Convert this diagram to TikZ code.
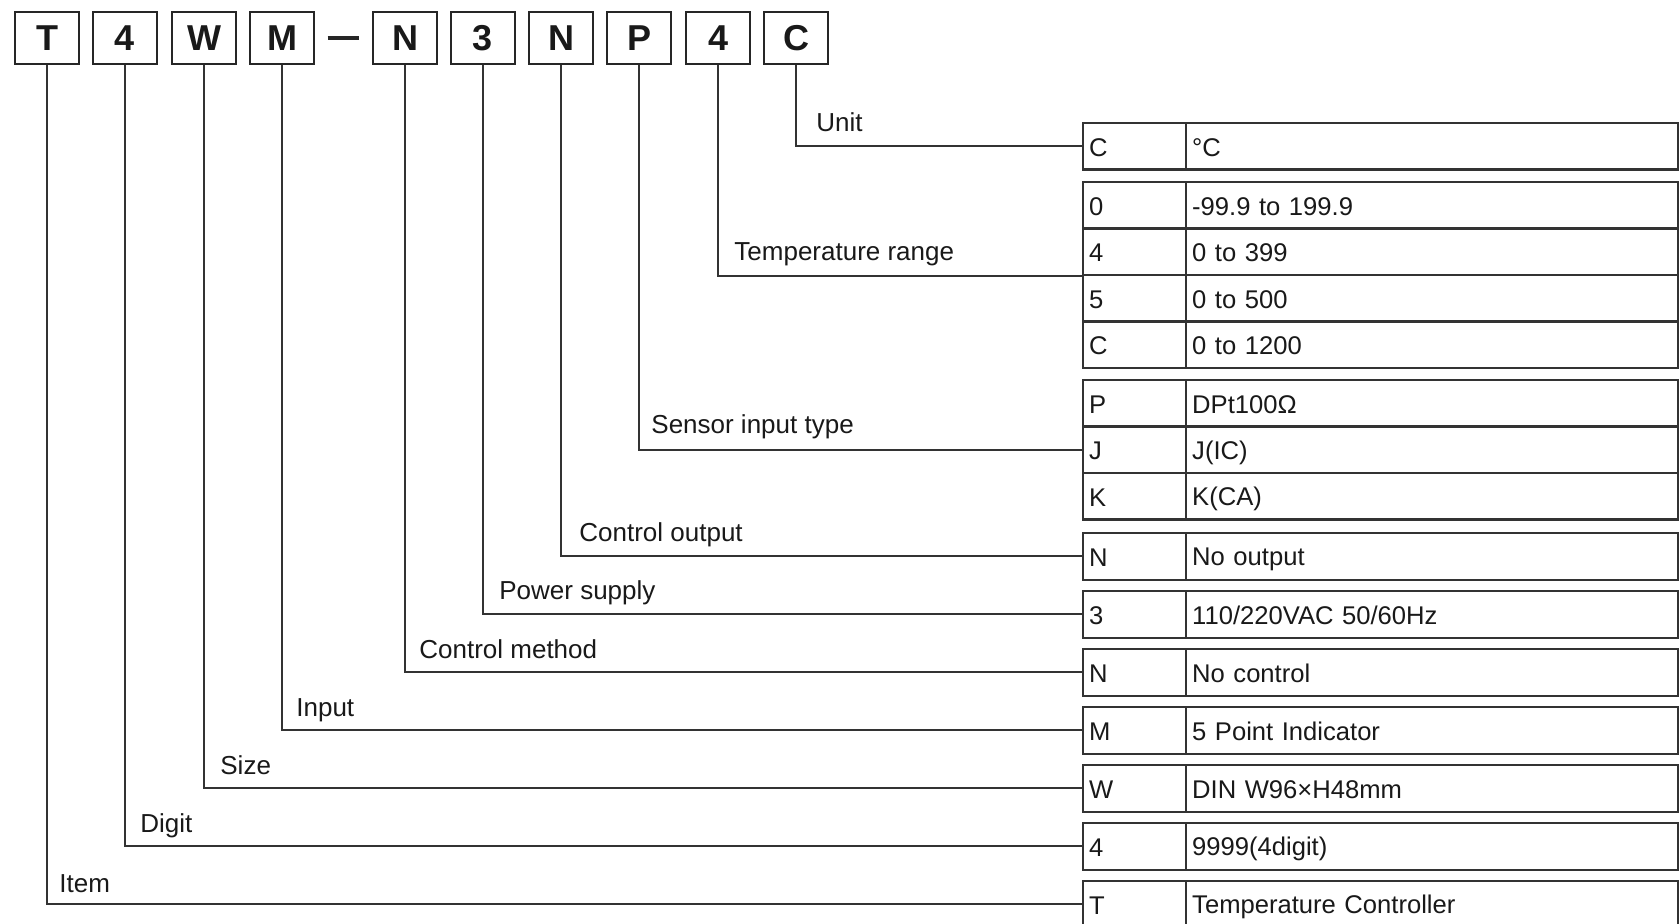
\documentclass[tikz,border=0pt]{standalone}
\usepackage{fontspec}
\setmainfont{Liberation Sans}
\usetikzlibrary{calc}
\newcommand\tabfont{\fontsize{12.8}{15}\selectfont}
\newcommand\lblfont{\fontsize{13}{15}\selectfont}
\newcommand\cellstrut{\rule[-2pt]{0pt}{14pt}}
\begin{document}
\begin{tikzpicture}[x=0.5pt,y=-0.5pt,
  keybox/.style={draw=black!85, line width=1.3pt, minimum width=32pt, minimum height=26pt, inner sep=0pt, font=\fontsize{18}{20}\selectfont\bfseries, text=black!90},
  cellbase/.style={draw=black!80, line width=1.2pt, anchor=north west, inner xsep=3pt, inner ysep=0pt, minimum height=23.25pt, align=left, font=\tabfont, text=black!90, execute at begin node=\cellstrut},
  codecell/.style={cellbase, text width=45.5pt},
  desccell/.style={cellbase, text width=240pt},
  conn/.style={draw=black!80, line width=1pt},
  lbl/.style={anchor=base west, inner sep=0pt, font=\lblfont, text=black!90}]
\newcommand\tabrow[4]{%
  \node[codecell] (#1c) at (1082,#2) {#3};
  \node[desccell] (#1d) at (1185,#2) {#4};}
\useasboundingbox (0,0) rectangle (1680,924);
\fill[white] (0,0) rectangle (1680,924);
% top code boxes
\node[keybox] (k1) at (47,38) {T};
\node[keybox] (k2) at (125,38) {4};
\node[keybox] (k3) at (204,38) {W};
\node[keybox] (k4) at (282,38) {M};
\node[inner sep=0pt] (dash) at (343,38) {\color{black!85}\rule{15.5pt}{2.2pt}};
\node[keybox] (k5) at (405,38) {N};
\node[keybox] (k6) at (483,38) {3};
\node[keybox] (k7) at (561,38) {N};
\node[keybox] (k8) at (639,38) {P};
\node[keybox] (k9) at (718,38) {4};
\node[keybox] (k10) at (796,38) {C};
% table rows
\tabrow{rowU}{122}{C}{°C}
\tabrow{rowTa}{181}{0}{-99.9 to 199.9}
\tabrow{rowTb}{227.5}{4}{0 to 399}
\tabrow{rowTc}{274}{5}{0 to 500}
\tabrow{rowTd}{320.5}{C}{0 to 1200}
\tabrow{rowSa}{379}{P}{DPt100Ω}
\tabrow{rowSb}{425.5}{J}{J(IC)}
\tabrow{rowSc}{472}{K}{K(CA)}
\tabrow{rowOut}{532}{N}{No output}
\tabrow{rowPow}{590}{3}{110/220VAC 50/60Hz}
\tabrow{rowMeth}{648}{N}{No control}
\tabrow{rowIn}{706}{M}{5 Point Indicator}
\tabrow{rowSize}{764}{W}{DIN W96×H48mm}
\tabrow{rowDig}{822}{4}{9999(4digit)}
\tabrow{rowItem}{880}{T}{Temperature Controller}
% connectors
\draw[conn] (k10.south) |- (rowUc.west);
\draw[conn] (k9.south) |- (rowTbc.south west);
\draw[conn] (k8.south) |- (rowSbc.west);
\draw[conn] (k7.south) |- (rowOutc.west);
\draw[conn] (k6.south) |- (rowPowc.west);
\draw[conn] (k5.south) |- (rowMethc.west);
\draw[conn] (k4.south) |- (rowInc.west);
\draw[conn] (k3.south) |- (rowSizec.west);
\draw[conn] (k2.south) |- (rowDigc.west);
\draw[conn] (k1.south) |- (rowItemc.west);
% labels
\node[lbl] (lUnit) at ($(k10.south |- rowUc.west)+(20,-15)$) {Unit};
\node[lbl] (lTemp) at ($(k9.south |- rowTbc.south west)+(16,-16)$) {Temperature range};
\node[lbl] (lSens) at ($(k8.south |- rowSbc.west)+(12,-16)$) {Sensor input type};
\node[lbl] (lOut) at ($(k7.south |- rowOutc.west)+(18,-15)$) {Control output};
\node[lbl] (lPow) at ($(k6.south |- rowPowc.west)+(16,-15)$) {Power supply};
\node[lbl] (lMeth) at ($(k5.south |- rowMethc.west)+(14,-14)$) {Control method};
\node[lbl] (lIn) at ($(k4.south |- rowInc.west)+(14,-14)$) {Input};
\node[lbl] (lSize) at ($(k3.south |- rowSizec.west)+(16,-14)$) {Size};
\node[lbl] (lDig) at ($(k2.south |- rowDigc.west)+(15,-14)$) {Digit};
\node[lbl] (lItem) at ($(k1.south |- rowItemc.west)+(12,-12)$) {Item};
\end{tikzpicture}
\end{document}
